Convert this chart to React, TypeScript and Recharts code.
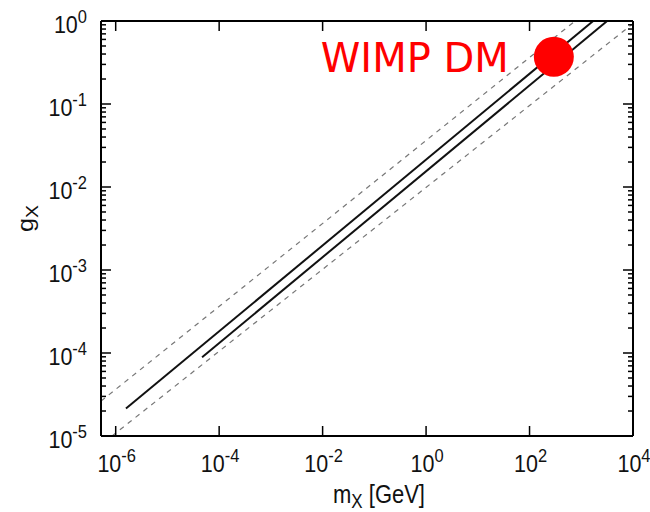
import React from 'react';
import { ComposedChart, Line, XAxis, YAxis, ReferenceDot } from 'recharts';

// Axis decades (tick labels are 10^n)
const xTickExponents = [-6, -4, -2, 0, 2, 4];
const yTickExponents = [-5, -4, -3, -2, -1, 0];
const xDomain = [5.2e-7, 1e4];
const yDomain = [1e-5, 1];

// Series (m_X in GeV, g_X)
const solidUpper = [
  { m: 1.58e-6, g: 2.14e-5 },
  { m: 1698, g: 1 },
];
const solidLower = [
  { m: 4.68e-5, g: 8.9e-5 },
  { m: 3162, g: 1 },
];
const dashedUpper = [
  { m: 5.2e-7, g: 2.63e-5 },
  { m: 759, g: 1 },
];
const dashedLower = [
  { m: 8.5e-7, g: 1e-5 },
  { m: 1e4, g: 0.93 },
];
const wimpPoint = { m: 295, g: 0.37, label: 'WIMP DM' };

const xTicks = xTickExponents.map((e) => Math.pow(10, e));
const yTicks: number[] = [];
yTickExponents.forEach((e, i) => {
  yTicks.push(Math.pow(10, e));
  if (i < yTickExponents.length - 1) {
    for (let k = 2; k <= 9; k++) yTicks.push(k * Math.pow(10, e));
  }
});

const isMajor = (v: number) => {
  const l = Math.log10(v);
  return Math.abs(l - Math.round(l)) < 1e-6;
};

const FONT = '"Liberation Sans", Arial, sans-serif';
const MAJ = 10;
const MIN = 5;
const SW = 1.5;

const BottomTick = (props: any) => {
  const { x, y, payload } = props;
  const exp = Math.round(Math.log10(payload.value));
  return (
    <g>
      <line x1={x} y1={y} x2={x} y2={y - MAJ} stroke="#000" strokeWidth={SW} />
      <g transform={`translate(${x + 1},${y}) scale(1,1.15)`}>
        <text x={0} y={31.3} textAnchor="middle" fontSize={21.5} fill="#111" fontFamily={FONT}>
          10
          <tspan dy={-9} fontSize={16.5}>{String(exp)}</tspan>
        </text>
      </g>
    </g>
  );
};

const TopTick = (props: any) => {
  const { x, y } = props;
  return <line x1={x} y1={y} x2={x} y2={y + MAJ} stroke="#000" strokeWidth={SW} />;
};

const LeftTick = (props: any) => {
  const { x, y, payload } = props;
  const major = isMajor(payload.value);
  const exp = Math.round(Math.log10(payload.value));
  return (
    <g>
      <line x1={x} y1={y} x2={x + (major ? MAJ : MIN)} y2={y} stroke="#000" strokeWidth={SW} />
      {major && (
        <g transform={`translate(${x - 14},${y}) scale(1,1.15)`}>
          <text x={0} y={10.8} textAnchor="end" fontSize={21.5} fill="#111" fontFamily={FONT}>
            10
            <tspan dy={-9} fontSize={16.5}>{String(exp)}</tspan>
          </text>
        </g>
      )}
    </g>
  );
};

const RightTick = (props: any) => {
  const { x, y, payload } = props;
  const major = isMajor(payload.value);
  return <line x1={x} y1={y} x2={x - (major ? MAJ : MIN)} y2={y} stroke="#000" strokeWidth={SW} />;
};

const XTitle = (props: any) => {
  const vb = props.viewBox || { x: 101, y: 436, width: 532 };
  const cx = vb.x + vb.width / 2 + 12;
  return (
    <g transform={`translate(${cx},${vb.y}) scale(1,1.15)`}>
      <text x={0} y={58.3} textAnchor="middle" fontSize={22} fill="#111" fontFamily={FONT}>
        m
        <tspan dy={4.5} fontSize={17}>X</tspan>
        <tspan dy={-4.5}>{'\u00a0[GeV]'}</tspan>
      </text>
    </g>
  );
};

const YTitle = (props: any) => {
  const vb = props.viewBox || { x: 100, y: 21, height: 415 };
  const cy = vb.y + vb.height / 2 - 10;
  return (
    <g transform={`translate(33,${cy}) rotate(-90) scale(1.15,1)`}>
      <text x={0} y={0} textAnchor="middle" fontSize={22} fill="#111" fontFamily={FONT}>
        g
        <tspan dy={4.5} fontSize={17}>X</tspan>
      </text>
    </g>
  );
};

const WimpLabel = (props: any) => {
  const vb = props.viewBox || { x: 534, y: 37, width: 40, height: 40 };
  return (
    <text
      x={vb.x - 25}
      y={vb.y + vb.height / 2 + 15}
      textAnchor="end"
      fontSize={40}
      fill="#ff0000"
      fontFamily='"DejaVu Sans", sans-serif'
    >
      {wimpPoint.label}
    </text>
  );
};

export default function App() {
  return (
    <div style={{ position: 'absolute', left: 0, top: 0, width: 650, height: 512, background: '#fff' }}>
      <ComposedChart
        width={650}
        height={512}
        margin={{ top: 20, right: 16, bottom: 75, left: 100 }}
        style={{ fontFamily: FONT }}
      >
        <XAxis
          xAxisId={0}
          dataKey="m"
          type="number"
          scale="log"
          domain={xDomain}
          allowDataOverflow
          ticks={xTicks}
          interval={0}
          height={1}
          tickSize={0}
          tickMargin={0}
          tickLine={false}
          tick={BottomTick}
          axisLine={{ stroke: '#000', strokeWidth: 2 }}
          label={{ content: XTitle }}
        />
        <XAxis
          xAxisId="top"
          orientation="top"
          dataKey="m"
          type="number"
          scale="log"
          domain={xDomain}
          allowDataOverflow
          ticks={xTicks}
          interval={0}
          height={1}
          tickSize={0}
          tickMargin={0}
          tickLine={false}
          tick={TopTick}
          axisLine={{ stroke: '#000', strokeWidth: 2 }}
        />
        <YAxis
          yAxisId={0}
          dataKey="g"
          type="number"
          scale="log"
          domain={yDomain}
          allowDataOverflow
          ticks={yTicks}
          interval={0}
          width={1}
          tickSize={0}
          tickMargin={0}
          tickLine={false}
          tick={LeftTick}
          axisLine={{ stroke: '#000', strokeWidth: 2 }}
          label={{ content: YTitle }}
        />
        <YAxis
          yAxisId="right"
          orientation="right"
          dataKey="g"
          type="number"
          scale="log"
          domain={yDomain}
          allowDataOverflow
          ticks={yTicks}
          interval={0}
          width={1}
          tickSize={0}
          tickMargin={0}
          tickLine={false}
          tick={RightTick}
          axisLine={{ stroke: '#000', strokeWidth: 2 }}
        />
        <Line
          data={dashedUpper}
          dataKey="g"
          type="linear"
          stroke="#777"
          strokeWidth={1.2}
          strokeDasharray="5 5"
          dot={false}
          activeDot={false}
          isAnimationActive={false}
        />
        <Line
          data={dashedLower}
          dataKey="g"
          type="linear"
          stroke="#777"
          strokeWidth={1.2}
          strokeDasharray="5 5"
          dot={false}
          activeDot={false}
          isAnimationActive={false}
        />
        <Line
          data={solidUpper}
          dataKey="g"
          type="linear"
          stroke="#111"
          strokeWidth={2}
          dot={false}
          activeDot={false}
          isAnimationActive={false}
        />
        <Line
          data={solidLower}
          dataKey="g"
          type="linear"
          stroke="#111"
          strokeWidth={2}
          dot={false}
          activeDot={false}
          isAnimationActive={false}
        />
        <ReferenceDot
          x={wimpPoint.m}
          y={wimpPoint.g}
          r={20}
          fill="#ff0000"
          stroke="none"
          label={{ content: WimpLabel }}
        />
      </ComposedChart>
    </div>
  );
}
